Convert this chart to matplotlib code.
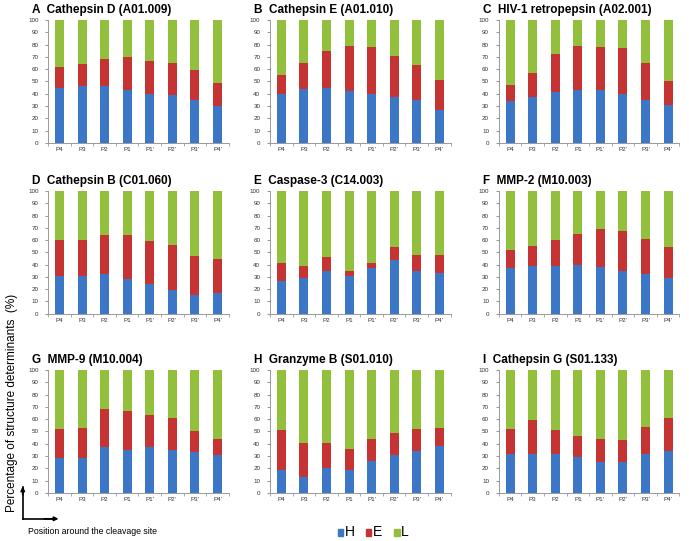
import matplotlib.pyplot as plt
import numpy as np

plt.rcParams['font.family'] = ['Liberation Sans', 'DejaVu Sans']

positions = ["P4", "P3", "P2", "P1", "P1'", "P2'", "P3'", "P4'"]

titles = ["A  Cathepsin D (A01.009)", "B  Cathepsin E (A01.010)", "C  HIV-1 retropepsin (A02.001)",
          "D  Cathepsin B (C01.060)", "E  Caspase-3 (C14.003)", "F  MMP-2 (M10.003)",
          "G  MMP-9 (M10.004)", "H  Granzyme B (S01.010)", "I  Cathepsin G (S01.133)"]

# helix share (H) per position
helix = [
    [45, 46, 46, 43, 40, 39, 35, 30],
    [40, 44, 45, 42, 40, 37, 35, 27],
    [34, 37, 41, 43, 43, 40, 35, 31],
    [31, 31, 32, 28, 24, 19, 15, 17],
    [27, 29, 35, 31, 37, 44, 35, 33],
    [37, 39, 39, 40, 38, 35, 32, 29],
    [28, 28, 37, 35, 37, 35, 33, 31],
    [19, 13, 20, 19, 26, 31, 34, 38],
    [32, 32, 32, 29, 25, 25, 32, 34],
]
# H + E (top of the red segment)
helix_strand = [
    [62, 64, 68, 70, 67, 65, 59, 49],
    [55, 65, 75, 79, 78, 71, 63, 51],
    [47, 57, 72, 79, 78, 77, 65, 50],
    [60, 60, 64, 64, 59, 56, 47, 45],
    [41, 39, 46, 35, 41, 54, 48, 48],
    [52, 55, 60, 65, 69, 67, 61, 54],
    [52, 53, 68, 67, 63, 61, 50, 44],
    [51, 41, 41, 36, 44, 49, 52, 53],
    [52, 59, 51, 46, 44, 43, 54, 61],
]

c_h = '#3b77c6'
c_e = '#c63333'
c_l = '#93c03c'

fig = plt.figure(figsize=(6.89, 5.41), dpi=100)

lefts = [0.070, 0.392, 0.724]
bottoms = [0.736, 0.420, 0.089]
w, h = 0.262, 0.227

x = np.arange(len(positions))
for i in range(9):
    ax = fig.add_axes([lefts[i % 3], bottoms[i // 3], w, h])
    H = np.array(helix[i])
    E = np.array(helix_strand[i]) - H
    L = 100 - np.array(helix_strand[i])
    ax.bar(x, H, 0.4, color=c_h)
    ax.bar(x, E, 0.4, bottom=H, color=c_e)
    ax.bar(x, L, 0.4, bottom=H + E, color=c_l)
    ax.set_xlim(-0.5, 7.5)
    ax.set_ylim(0, 100)
    ax.set_yticks(range(0, 101, 10))
    ax.set_xticks(x)
    ax.set_xticklabels(positions)
    ax.set_xticks(np.arange(-0.5, 8, 1), minor=True)
    ax.tick_params(axis='x', which='major', length=0, labelsize=4.5, pad=3, colors='#333333')
    ax.tick_params(axis='x', which='minor', length=2, color='#999999')
    ax.tick_params(axis='y', length=2, labelsize=4.5, pad=5, colors='#333333', color='#999999')
    for s in ['top', 'right']:
        ax.spines[s].set_visible(False)
    for s in ['left', 'bottom']:
        ax.spines[s].set_color('#999999')
        ax.spines[s].set_linewidth(0.7)
    ax.text(-0.09, 1.03, titles[i], transform=ax.transAxes, fontsize=8.5,
            fontweight='bold', ha='left', va='bottom')

fig.text(0.008, 0.255, "Percentage of structure determinants  (%)", rotation=90,
         fontsize=8.5, ha='left', va='center')
fig.text(0.041, 0.010, "Position around the cleavage site", fontsize=6.3, ha='left', va='bottom')

# axis arrows
fig.add_artist(plt.Line2D([0.033, 0.033], [0.041, 0.1], color='black', lw=1.2))
fig.add_artist(plt.Line2D([0.033, 0.08], [0.041, 0.041], color='black', lw=1.2))
plt.annotate('', xy=(0.033, 0.106), xytext=(0.033, 0.08), xycoords='figure fraction',
             arrowprops=dict(arrowstyle='-|>', color='black', lw=1.2, mutation_scale=6))
plt.annotate('', xy=(0.089, 0.041), xytext=(0.06, 0.041), xycoords='figure fraction',
             arrowprops=dict(arrowstyle='-|>', color='black', lw=1.2, mutation_scale=6))

# legend
for j, (lab, col) in enumerate([('H', c_h), ('E', c_e), ('L', c_l)]):
    xx = 0.490 + j * 0.041
    fig.patches.append(plt.Rectangle((xx, 0.010), 0.008, 0.012, color=col, transform=fig.transFigure))
    fig.text(xx + 0.010, 0.004, lab, fontsize=10, ha='left', va='bottom')

fig.savefig('out.png', dpi=100)
